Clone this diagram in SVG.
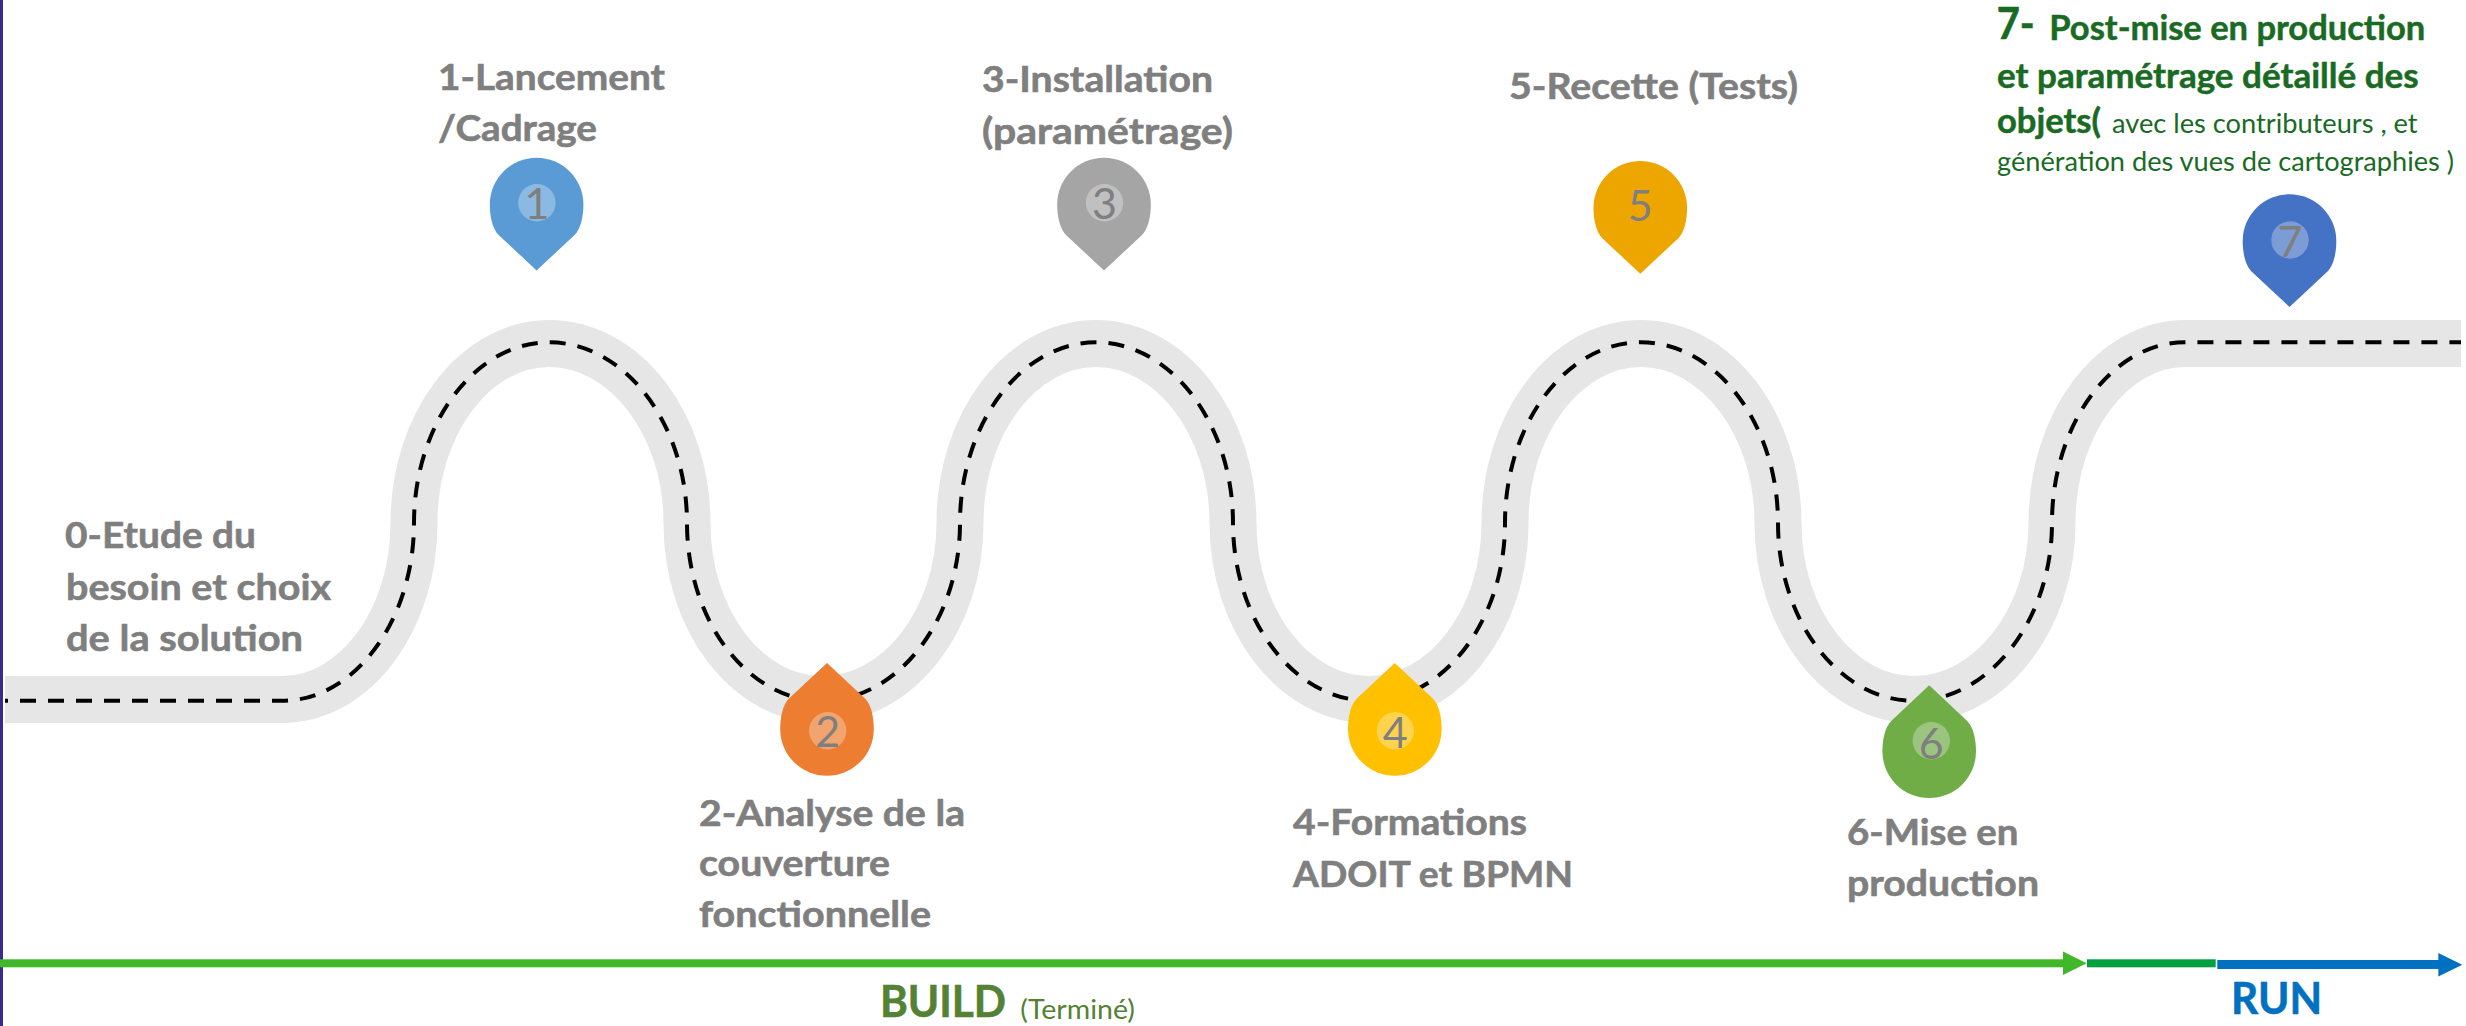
<svg xmlns="http://www.w3.org/2000/svg" width="2466" height="1026" viewBox="0 0 2466 1026">
<style>
text{font-family:"Lato","Liberation Sans",sans-serif}
.t{font-weight:700;font-size:37px;fill:#7f7f7f;stroke:#7f7f7f;stroke-width:.6}
.d{font-weight:400;font-size:43px;fill:#7f7f7f;text-anchor:middle}
.g{font-weight:700;font-size:34.5px;fill:#196b24;stroke:#196b24;stroke-width:.5}
.s{font-weight:400;font-size:27.5px;fill:#196b24}
.road{fill:none;stroke:#e6e6e6;stroke-width:47}
.dash{fill:none;stroke:#000;stroke-width:4;stroke-dasharray:16 12;stroke-dashoffset:13}
.halo{fill:#fff;fill-opacity:.3}
</style>
<defs>
<path id="drop" d="M0,66 L-38,30.4 C-44.5,24 -46.8,11 -46.8,0 A46.8,46.8 0 0 1 46.8,0 C46.8,11 44.5,24 38,30.4 Z"/>
</defs>
<rect width="2466" height="1026" fill="#fff"/>
<rect id="edge" x="0" y="0" width="3" height="1026" fill="#3b2a8c"/>
<g id="connectors">
<path id="road" class="road" d="M5,699.5 H282 C355,699.5 414,620 414,523 C414,424 475,343.5 549,343.5 C625,343.5 687,424 687,523 C687,620 747,699.5 822,699.5 C898,699.5 960,620 960,523 C960,424 1021,343.5 1096,343.5 C1171,343.5 1233,424 1233,523 C1233,620 1294,699.5 1369,699.5 C1444,699.5 1505,620 1505,523 C1505,424 1566,343.5 1641,343.5 C1716,343.5 1778,424 1778,523 C1778,620 1839,699.5 1914,699.5 C1989,699.5 2052,620 2052,523 C2052,424 2112,343.5 2185,343.5 H2461"/>
<path id="centerline" class="dash" d="M5,700.8 H282 C355,700.8 414,620 414,523 C414,424 475,342.3 549,342.3 C625,342.3 687,424 687,523 C687,620 747,700.8 822,700.8 C898,700.8 960,620 960,523 C960,424 1021,342.3 1096,342.3 C1171,342.3 1233,424 1233,523 C1233,620 1294,700.8 1369,700.8 C1444,700.8 1505,620 1505,523 C1505,424 1566,342.3 1641,342.3 C1716,342.3 1778,424 1778,523 C1778,620 1839,700.8 1914,700.8 C1989,700.8 2052,620 2052,523 C2052,424 2112,342.3 2185,342.3 H2461"/>
<g id="timeline">
<rect x="0" y="959.3" width="2064" height="8" fill="#40b82a"/>
<polygon points="2063,951.6 2086.7,963.3 2063,975" fill="#40b82a"/>
<rect x="2087" y="959.3" width="128.7" height="8" fill="#00a03e"/>
<rect x="2217.3" y="960" width="222" height="9" fill="#0070c0"/>
<polygon points="2438.3,953 2462.3,964.7 2438.3,976.4" fill="#0070c0"/>
</g>
</g>
<g id="step0"><text class="t" x="65" y="548.3" textLength="191" lengthAdjust="spacingAndGlyphs">0-Etude du</text><text class="t" x="66" y="599.5" textLength="265" lengthAdjust="spacingAndGlyphs">besoin et choix</text><text class="t" x="66" y="650.5" textLength="237" lengthAdjust="spacingAndGlyphs">de la solution</text></g>
<g id="step1"><use href="#drop" x="536.6" y="204.5" fill="#5b9bd5"/><circle class="halo" cx="536.9" cy="202.8" r="18.7"/><text class="d" x="536.9" y="219">1</text><text class="t" x="438" y="90.3" textLength="227" lengthAdjust="spacingAndGlyphs">1-Lancement</text><text class="t" x="438" y="141.3" textLength="159" lengthAdjust="spacingAndGlyphs">/Cadrage</text></g>
<g id="step2"><use href="#drop" transform="translate(827,729) rotate(180)" fill="#ed7d31"/><circle class="halo" cx="827.7" cy="730.7" r="18.7"/><text class="d" x="827.7" y="747">2</text><text class="t" x="699" y="825.5" textLength="266" lengthAdjust="spacingAndGlyphs">2-Analyse de la</text><text class="t" x="699" y="876.3" textLength="191" lengthAdjust="spacingAndGlyphs">couverture</text><text class="t" x="699" y="927.3" textLength="232" lengthAdjust="spacingAndGlyphs">fonctionnelle</text></g>
<g id="step3"><use href="#drop" x="1104" y="204.5" fill="#a5a5a5"/><circle class="halo" cx="1104.5" cy="202.8" r="18.7"/><text class="d" x="1104.5" y="219">3</text><text class="t" x="982" y="92" textLength="231" lengthAdjust="spacingAndGlyphs">3-Installation</text><text class="t" x="982" y="143.5" textLength="251" lengthAdjust="spacingAndGlyphs">(paramétrage)</text></g>
<g id="step4"><use href="#drop" transform="translate(1394.8,729) rotate(180)" fill="#ffc000"/><circle class="halo" cx="1395.3" cy="730.9" r="18.7"/><text class="d" x="1395.3" y="748">4</text><text class="t" x="1293" y="835" textLength="234" lengthAdjust="spacingAndGlyphs">4-Formations</text><text class="t" x="1293" y="886.5" textLength="280" lengthAdjust="spacingAndGlyphs">ADOIT et BPMN</text></g>
<g id="step5"><use href="#drop" x="1640.3" y="207.8" fill="#eda600"/><text class="d" x="1640.3" y="221">5</text><text class="t" x="1509" y="99" textLength="289" lengthAdjust="spacingAndGlyphs">5-Recette (Tests)</text></g>
<g id="step6"><use href="#drop" transform="translate(1929.2,751.3) rotate(180)" fill="#70ad47"/><circle class="halo" cx="1931.3" cy="740.7" r="18.7"/><text class="d" x="1931.3" y="759">6</text><text class="t" x="1847" y="845" textLength="171.5" lengthAdjust="spacingAndGlyphs">6-Mise en</text><text class="t" x="1847" y="896" textLength="192" lengthAdjust="spacingAndGlyphs">production</text></g>
<g id="step7"><use href="#drop" x="2289.5" y="241" fill="#4472c4"/><circle class="halo" cx="2290" cy="240" r="18.7"/><text class="d" x="2290" y="256.5">7</text>
<text x="1996.7" y="39" font-size="44" font-weight="700" fill="#196b24" stroke="#196b24" stroke-width=".6" textLength="38" lengthAdjust="spacingAndGlyphs">7-</text>
<text class="g" x="2049.3" y="39.5" textLength="376" lengthAdjust="spacingAndGlyphs">Post-mise en production</text>
<text class="g" x="1997" y="88" textLength="421.6" lengthAdjust="spacingAndGlyphs">et paramétrage détaillé des</text>
<text class="g" x="1997" y="132.7" textLength="104" lengthAdjust="spacingAndGlyphs">objets(</text>
<text class="s" x="2112" y="132.7" textLength="305.6" lengthAdjust="spacingAndGlyphs">avec les contributeurs , et</text>
<text class="s" x="1997" y="171" textLength="457" lengthAdjust="spacingAndGlyphs">génération des vues de cartographies )</text></g>
<g id="build"><text x="880" y="1016.5" font-size="43" font-weight="700" fill="#548235" stroke="#548235" stroke-width=".6" textLength="126" lengthAdjust="spacingAndGlyphs">BUILD</text><text x="1020.3" y="1018.7" font-size="26" fill="#548235" textLength="114.6" lengthAdjust="spacingAndGlyphs">(Terminé)</text></g>
<g id="run"><text x="2231" y="1014" font-size="43" font-weight="700" fill="#0070c0" stroke="#0070c0" stroke-width=".6" textLength="91" lengthAdjust="spacingAndGlyphs">RUN</text></g>
</svg>
